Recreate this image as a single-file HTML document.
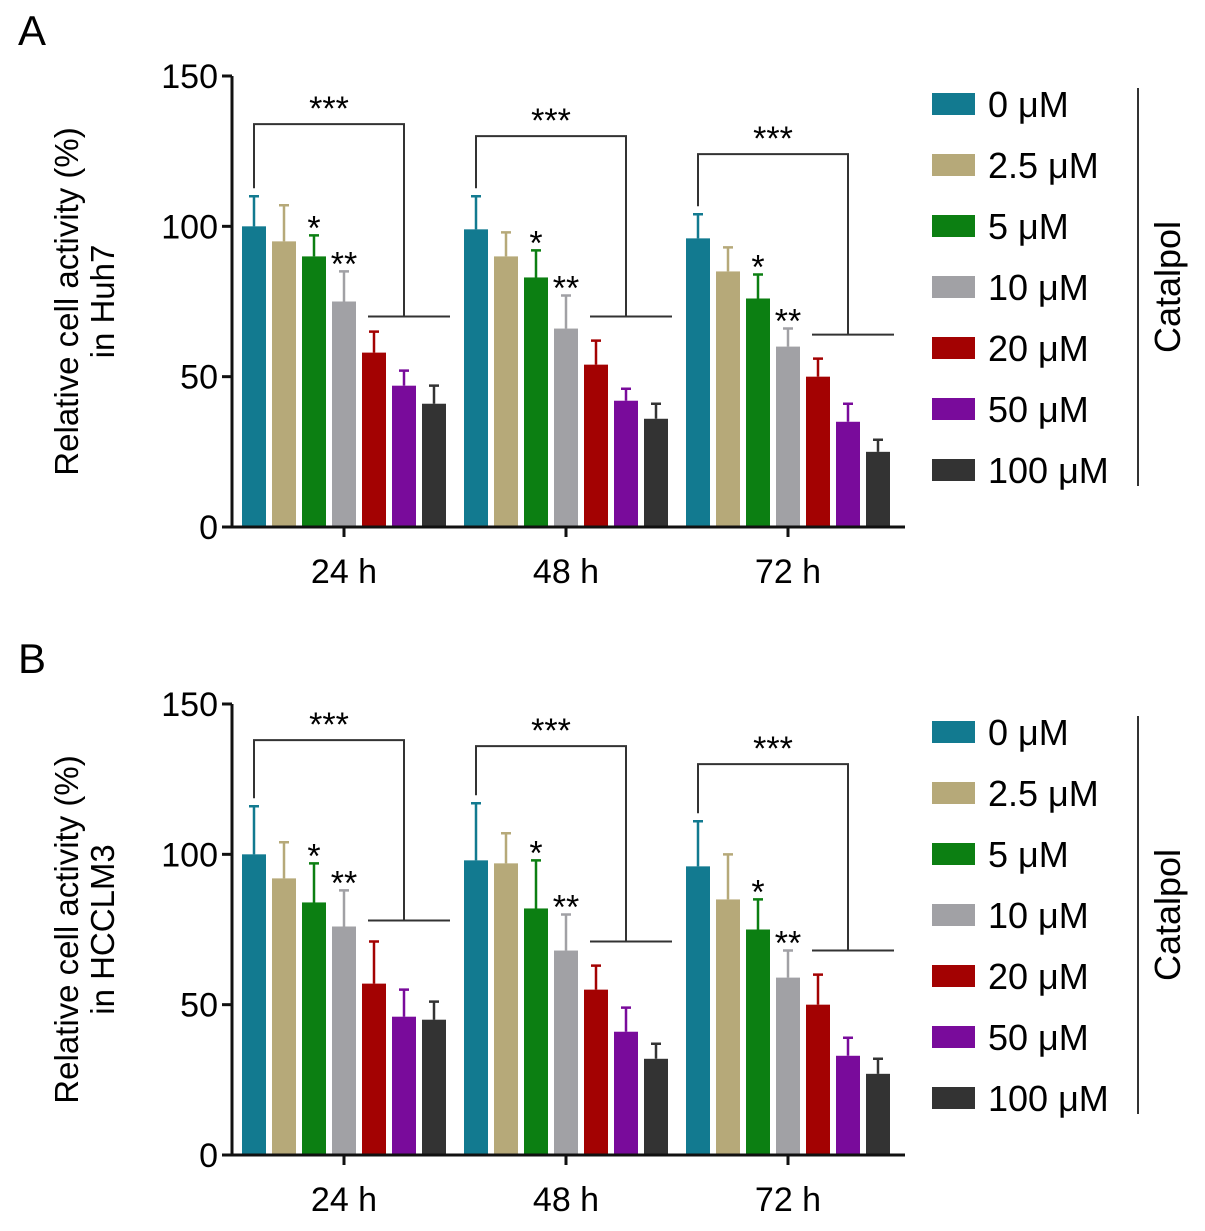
<!DOCTYPE html>
<html><head><meta charset="utf-8"><style>
body{margin:0;background:#fff}
svg{display:block;font-family:"Liberation Sans",Arial,sans-serif}
</style></head><body>
<svg id="fig" width="1205" height="1231" viewBox="0 0 1205 1231" xmlns="http://www.w3.org/2000/svg"></svg>
<script>
const groups = ["24 h","48 h","72 h"];
const doses = ["0 μM","2.5 μM","5 μM","10 μM","20 μM","50 μM","100 μM"];
const colors = ["#127a90","#b6a979","#0c7f12","#a1a1a5","#a30202","#790b9b","#333333"];
const yTicks = [0,50,100,150];
const meansA = [[100,95,90,75,58,47,41],[99,90,83,66,54,42,36],[96,85,76,60,50,35,25]];
const errA   = [[10,12,7,10,7,5,6],[11,8,9,11,8,4,5],[8,8,8,6,6,6,4]];
const meansB = [[100,92,84,76,57,46,45],[98,97,82,68,55,41,32],[96,85,75,59,50,33,27]];
const errB   = [[16,12,13,12,14,9,6],[19,10,16,12,8,8,5],[15,15,10,9,10,6,5]];
const bracketTopA = [134,130,124];
const bracketLowA = [70,70,64];
const bracketTopB = [138,136,130];
const bracketLowB = [78,71,68];

const svg = document.getElementById('fig');
const NS = "http://www.w3.org/2000/svg";
function mk(tag, attrs, parent){const e=document.createElementNS(NS,tag);for(const k in attrs)e.setAttribute(k,attrs[k]);(parent||svg).appendChild(e);return e;}

function panel(letter, y0, means, errs, bTop, bLow, cellLine){
  const g = mk('g',{});
  
  
  const axX = 232, ppu = 451/150;
  const Y = v => y0 - v*ppu;
  const barW = 24, barStep = 30, groupStep = 222, firstBar = 242;
  const barX = (gi,bi) => firstBar + gi*groupStep + bi*barStep;
  const t = mk('text',{x:18,y:y0-482,'font-size':42},g); t.textContent=letter;
   
  means.forEach((row,gi)=>row.forEach((v,bi)=>{
    const x = barX(gi,bi);
    const r = mk('rect',{x:x,y:Y(v),width:barW,height:Y(0)-Y(v),fill:colors[bi]},g);
    
    
    const cx = x+barW/2, top = Y(v+errs[gi][bi]);
    const e = mk('path',{d:`M${cx} ${Y(v)}V${top}M${cx-5} ${top}H${cx+5}`,stroke:colors[bi],'stroke-width':2.5,fill:'none'},g);
     
    if(bi===2||bi===3){
      const s = mk('text',{x:cx,y:top+4,'font-size':34,'text-anchor':'middle'},g);
      s.textContent = bi===2?'*':'**';
       
    }
    if(bi===0){
      const cx0 = cx;
      const xr = barX(gi,5)+12;
      const p = mk('path',{d:`M${cx0} ${Y(v+errs[gi][0])-8}V${Y(bTop[gi])}H${xr}V${Y(bLow[gi])}M${barX(gi,4)+6} ${Y(bLow[gi])}H${barX(gi,6)+28}`,stroke:'#333',fill:'none','stroke-width':2},g);
       
      const s = mk('text',{x:(cx0+xr)/2,y:Y(bTop[gi])-4,'font-size':34,'text-anchor':'middle'},g);
      s.textContent='***';
       
    }
  }));
  const ax = mk('path',{d:`M${axX} ${Y(150)}V${Y(0)}H905`,stroke:'#111',fill:'none','stroke-width':3},g);
   
  yTicks.forEach(v=>{
    mk('line',{x1:axX-10,x2:axX,y1:Y(v),y2:Y(v),stroke:'#111','stroke-width':3},g);
    const l = mk('text',{x:axX-14,y:Y(v)+12,'font-size':34,'text-anchor':'end'},g);
    l.textContent=v;  
  });
  groups.forEach((name,gi)=>{
    const cx = barX(gi,3)+barW/2;
    mk('line',{x1:cx,x2:cx,y1:Y(0),y2:Y(0)+10,stroke:'#111','stroke-width':3},g);
    const l = mk('text',{x:cx,y:Y(0)+56,'font-size':34,'text-anchor':'middle'},g);
    l.textContent=name;  
  });
  const yt = mk('text',{transform:`translate(78 ${Y(75)}) rotate(-90)`,'font-size':33,'text-anchor':'middle'},g);
   
  const t1 = mk('tspan',{x:0,y:0},yt); t1.textContent='Relative cell activity (%)';
  const t2 = mk('tspan',{x:0,y:36},yt); t2.textContent='in '+cellLine;
  const ly0 = Y(150)+28;
  doses.forEach((d,i)=>{
    const yy = ly0 + i*61;
    const r = mk('rect',{x:932,y:yy-11,width:43,height:22,fill:colors[i]},g);
     
    const l = mk('text',{x:988,y:yy+13,'font-size':36},g);
    l.textContent=d;  
  });
  const vl = mk('line',{x1:1138,x2:1138,y1:ly0-16,y2:ly0+6*61+16,stroke:'#333','stroke-width':2},g);
   
  const c = mk('text',{transform:`translate(1180 ${ly0+183}) rotate(-90)`,'font-size':36,'text-anchor':'middle'},g);
  c.textContent='Catalpol';  
}
panel('A',527,meansA,errA,bracketTopA,bracketLowA,'Huh7');
panel('B',1155,meansB,errB,bracketTopB,bracketLowB,'HCCLM3');
</script>
</body></html>
